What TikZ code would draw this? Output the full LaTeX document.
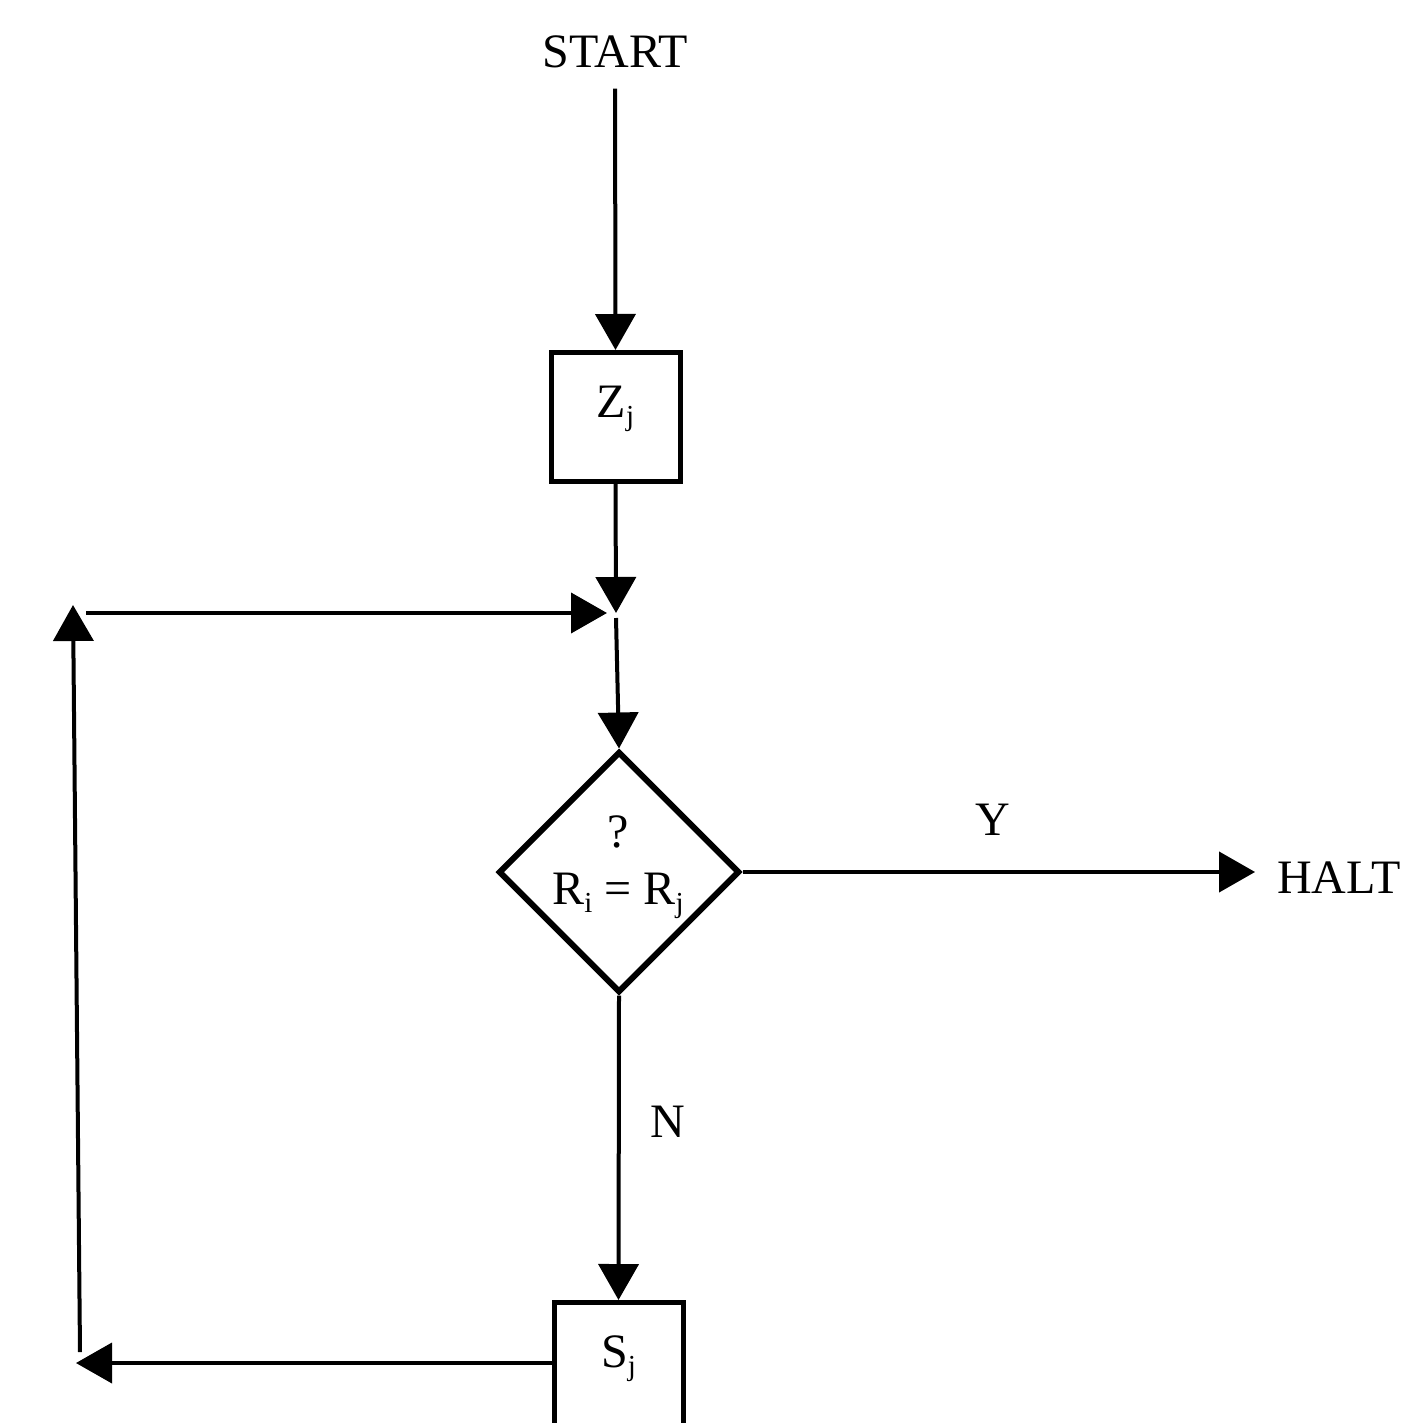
\documentclass[tikz,border=0pt]{standalone}
\usepackage{fontspec}
\setmainfont{Liberation Serif}
\usetikzlibrary{arrows.meta,shapes.geometric}
% small lowered index letter
\newcommand{\lowsub}[1]{\raisebox{-0.17em}{\fontsize{29pt}{29pt}\selectfont #1}}

\begin{document}
\begin{tikzpicture}[x=1pt,y=-1pt,
  txt/.style={font=\fontsize{48pt}{57pt}\selectfont, inner sep=0pt},
  flow/.style={line width=4pt, -{Triangle[length=36pt,width=40pt]}},
  procbox/.style={draw, line width=5pt, minimum width=129pt, minimum height=129pt,
    inner sep=0pt, font=\fontsize{48pt}{57pt}\selectfont, text height=34pt, text depth=34pt},
  decision/.style={draw, diamond, line width=6pt, minimum width=241pt,
    minimum height=241pt, inner sep=0pt}
]
\useasboundingbox (0,0) rectangle (1405,1423);

% nodes
\node[txt, anchor=base] (start) at (615,68) {START};
\node[procbox] (z) at (615.5,417) {Z\lowsub{j}};
\coordinate (j) at (616,613);
\node[decision] (d) at (619,872) {};
\node[txt, align=center] (dtext) at (618,867) {?\\R\lowsub{i} = R\lowsub{j}};
\node[procbox] (s) at (618.5,1367) {S\lowsub{j}};
\node[txt, anchor=base east] (halt) at (1401,893) {HALT};
\node[txt] (ylab) at (993,820) {Y};
\node[txt] (nlab) at (668,1122) {N};

% loop corners
\coordinate (loopbr) at (76,1363);
\coordinate (loopbl) at (80,1352);
\coordinate (looptop) at (73,605);
\coordinate (looptl) at (86,613);

% connectors
\draw[flow, shorten <=20pt] (start.south) -- (z.north);
\draw[flow] (z.south) -- (j);
\draw[flow] ([yshift=-5pt]j) -- (d.north);
\draw[flow, shorten >=22pt] (d.east) -- (halt.west |- d.east);
\draw[flow] (d.south) -- (s.north);
\draw[flow] ([yshift=4pt]s.west) -- (loopbr);
\draw[flow] (loopbl) -- (looptop);
\draw[flow, shorten >=9pt] (looptl) -- (j);
\end{tikzpicture}
\end{document}
